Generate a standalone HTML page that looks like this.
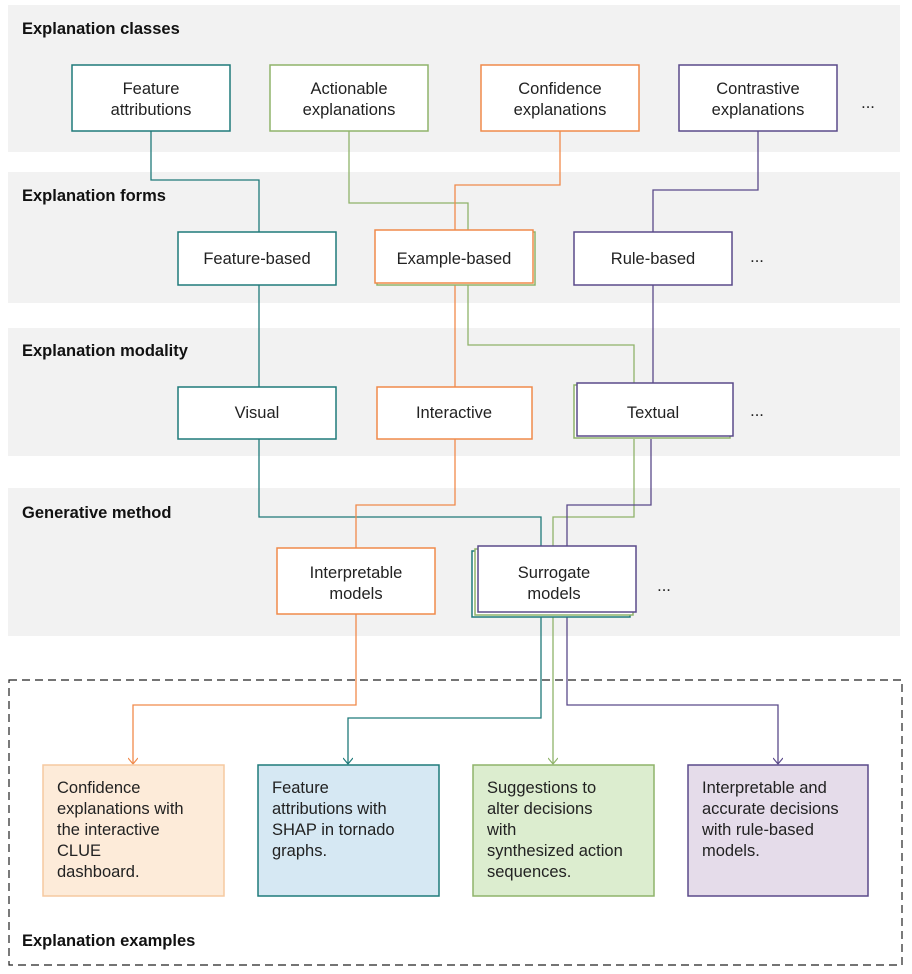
<!DOCTYPE html>
<html><head><meta charset="utf-8"><style>
body{margin:0;background:#fff}
svg{display:block;font-family:"Liberation Sans",sans-serif}
</style></head><body>
<svg width="912" height="974" viewBox="0 0 912 974" xmlns="http://www.w3.org/2000/svg">
<defs>
<marker id="at" markerWidth="10" markerHeight="10" refX="5" refY="8" markerUnits="userSpaceOnUse"><path d="M0,2 L5,8 L10,2" fill="none" stroke="#1f7a7a" stroke-width="1.2"/></marker>
<marker id="ag" markerWidth="10" markerHeight="10" refX="5" refY="8" markerUnits="userSpaceOnUse"><path d="M0,2 L5,8 L10,2" fill="none" stroke="#8fb36a" stroke-width="1.2"/></marker>
<marker id="ao" markerWidth="10" markerHeight="10" refX="5" refY="8" markerUnits="userSpaceOnUse"><path d="M0,2 L5,8 L10,2" fill="none" stroke="#f08a4b" stroke-width="1.2"/></marker>
<marker id="ap" markerWidth="10" markerHeight="10" refX="5" refY="8" markerUnits="userSpaceOnUse"><path d="M0,2 L5,8 L10,2" fill="none" stroke="#5a4a8a" stroke-width="1.2"/></marker>
</defs>
<g fill="#f2f2f2">
<rect x="8" y="5" width="892" height="147"/>
<rect x="8" y="172" width="892" height="131"/>
<rect x="8" y="328" width="892" height="128"/>
<rect x="8" y="488" width="892" height="148"/>
</g>
<rect x="9" y="680" width="893" height="285" fill="none" stroke="#222" stroke-width="1.2" stroke-dasharray="8,5"/>
<g font-weight="bold" font-size="16.5" fill="#111">
<text x="22" y="34">Explanation classes</text>
<text x="22" y="201">Explanation forms</text>
<text x="22" y="356">Explanation modality</text>
<text x="22" y="518">Generative method</text>
<text x="22" y="946">Explanation examples</text>
</g>
<g fill="none" stroke-width="1.3">
<path stroke="#1f7a7a" d="M151,131V180H259V232M259,285V387M259,439V517H541V548"/>
<path stroke="#1f7a7a" d="M541,614V718H348V764" marker-end="url(#at)"/>
<path stroke="#8fb36a" d="M349,131V203H468V232M468,285V345H634V387M634,439V517H553V548"/>
<path stroke="#8fb36a" d="M553,614V764" marker-end="url(#ag)"/>
<path stroke="#f08a4b" d="M560,131V185H455V232M455,285V387M455,439V505H356V548"/>
<path stroke="#f08a4b" d="M356,614V705H133V764" marker-end="url(#ao)"/>
<path stroke="#5a4a8a" d="M758,131V190H653V232M653,285V387M651,439V505H567V548"/>
<path stroke="#5a4a8a" d="M567,614V705H778V764" marker-end="url(#ap)"/>
</g>
<g fill="#fff" stroke-width="1.5">
<rect x="72" y="65" width="158" height="66" stroke="#1f7a7a"/>
<rect x="270" y="65" width="158" height="66" stroke="#8fb36a"/>
<rect x="481" y="65" width="158" height="66" stroke="#f08a4b"/>
<rect x="679" y="65" width="158" height="66" stroke="#5a4a8a"/>
<rect x="178" y="232" width="158" height="53" stroke="#1f7a7a"/>
<rect x="377" y="232" width="158" height="53" stroke="#8fb36a"/>
<rect x="375" y="230" width="158" height="53" stroke="#f08a4b"/>
<rect x="574" y="232" width="158" height="53" stroke="#5a4a8a"/>
<rect x="178" y="387" width="158" height="52" stroke="#1f7a7a"/>
<rect x="377" y="387" width="155" height="52" stroke="#f08a4b"/>
<rect x="574" y="385" width="156" height="53" stroke="#8fb36a"/>
<rect x="577" y="383" width="156" height="53" stroke="#5a4a8a"/>
<rect x="277" y="548" width="158" height="66" stroke="#f08a4b"/>
<rect x="472" y="551" width="158" height="66" stroke="#1f7a7a"/>
<rect x="475" y="549" width="158" height="66" stroke="#8fb36a"/>
<rect x="478" y="546" width="158" height="66" stroke="#5a4a8a"/>
<rect x="43" y="765" width="181" height="131" fill="#fdebd9" stroke="#f5c9a0"/>
<rect x="258" y="765" width="181" height="131" fill="#d6e8f3" stroke="#1f7a7a"/>
<rect x="473" y="765" width="181" height="131" fill="#dcedcf" stroke="#8fb36a"/>
<rect x="688" y="765" width="180" height="131" fill="#e5dcea" stroke="#5a4a8a"/>
</g>
<g font-size="16.5" fill="#222" text-anchor="middle">
<text x="151" y="94">Feature</text><text x="151" y="115">attributions</text>
<text x="349" y="94">Actionable</text><text x="349" y="115">explanations</text>
<text x="560" y="94">Confidence</text><text x="560" y="115">explanations</text>
<text x="758" y="94">Contrastive</text><text x="758" y="115">explanations</text>
<text x="868" y="108">...</text>
<text x="257" y="264">Feature-based</text>
<text x="454" y="264">Example-based</text>
<text x="653" y="264">Rule-based</text>
<text x="757" y="262">...</text>
<text x="257" y="418">Visual</text>
<text x="454" y="418">Interactive</text>
<text x="653" y="418">Textual</text>
<text x="757" y="416">...</text>
<text x="356" y="578">Interpretable</text><text x="356" y="599">models</text>
<text x="554" y="578">Surrogate</text><text x="554" y="599">models</text>
<text x="664" y="591">...</text>
</g>
<g font-size="16.5" fill="#222">
<text x="57" y="793">Confidence</text><text x="57" y="814">explanations with</text><text x="57" y="835">the interactive</text><text x="57" y="856">CLUE</text><text x="57" y="877">dashboard.</text>
<text x="272" y="793">Feature</text><text x="272" y="814">attributions with</text><text x="272" y="835">SHAP in tornado</text><text x="272" y="856">graphs.</text>
<text x="487" y="793">Suggestions to</text><text x="487" y="814">alter decisions</text><text x="487" y="835">with</text><text x="487" y="856">synthesized action</text><text x="487" y="877">sequences.</text>
<text x="702" y="793">Interpretable and</text><text x="702" y="814">accurate decisions</text><text x="702" y="835">with rule-based</text><text x="702" y="856">models.</text>
</g>
</svg>
</body></html>
